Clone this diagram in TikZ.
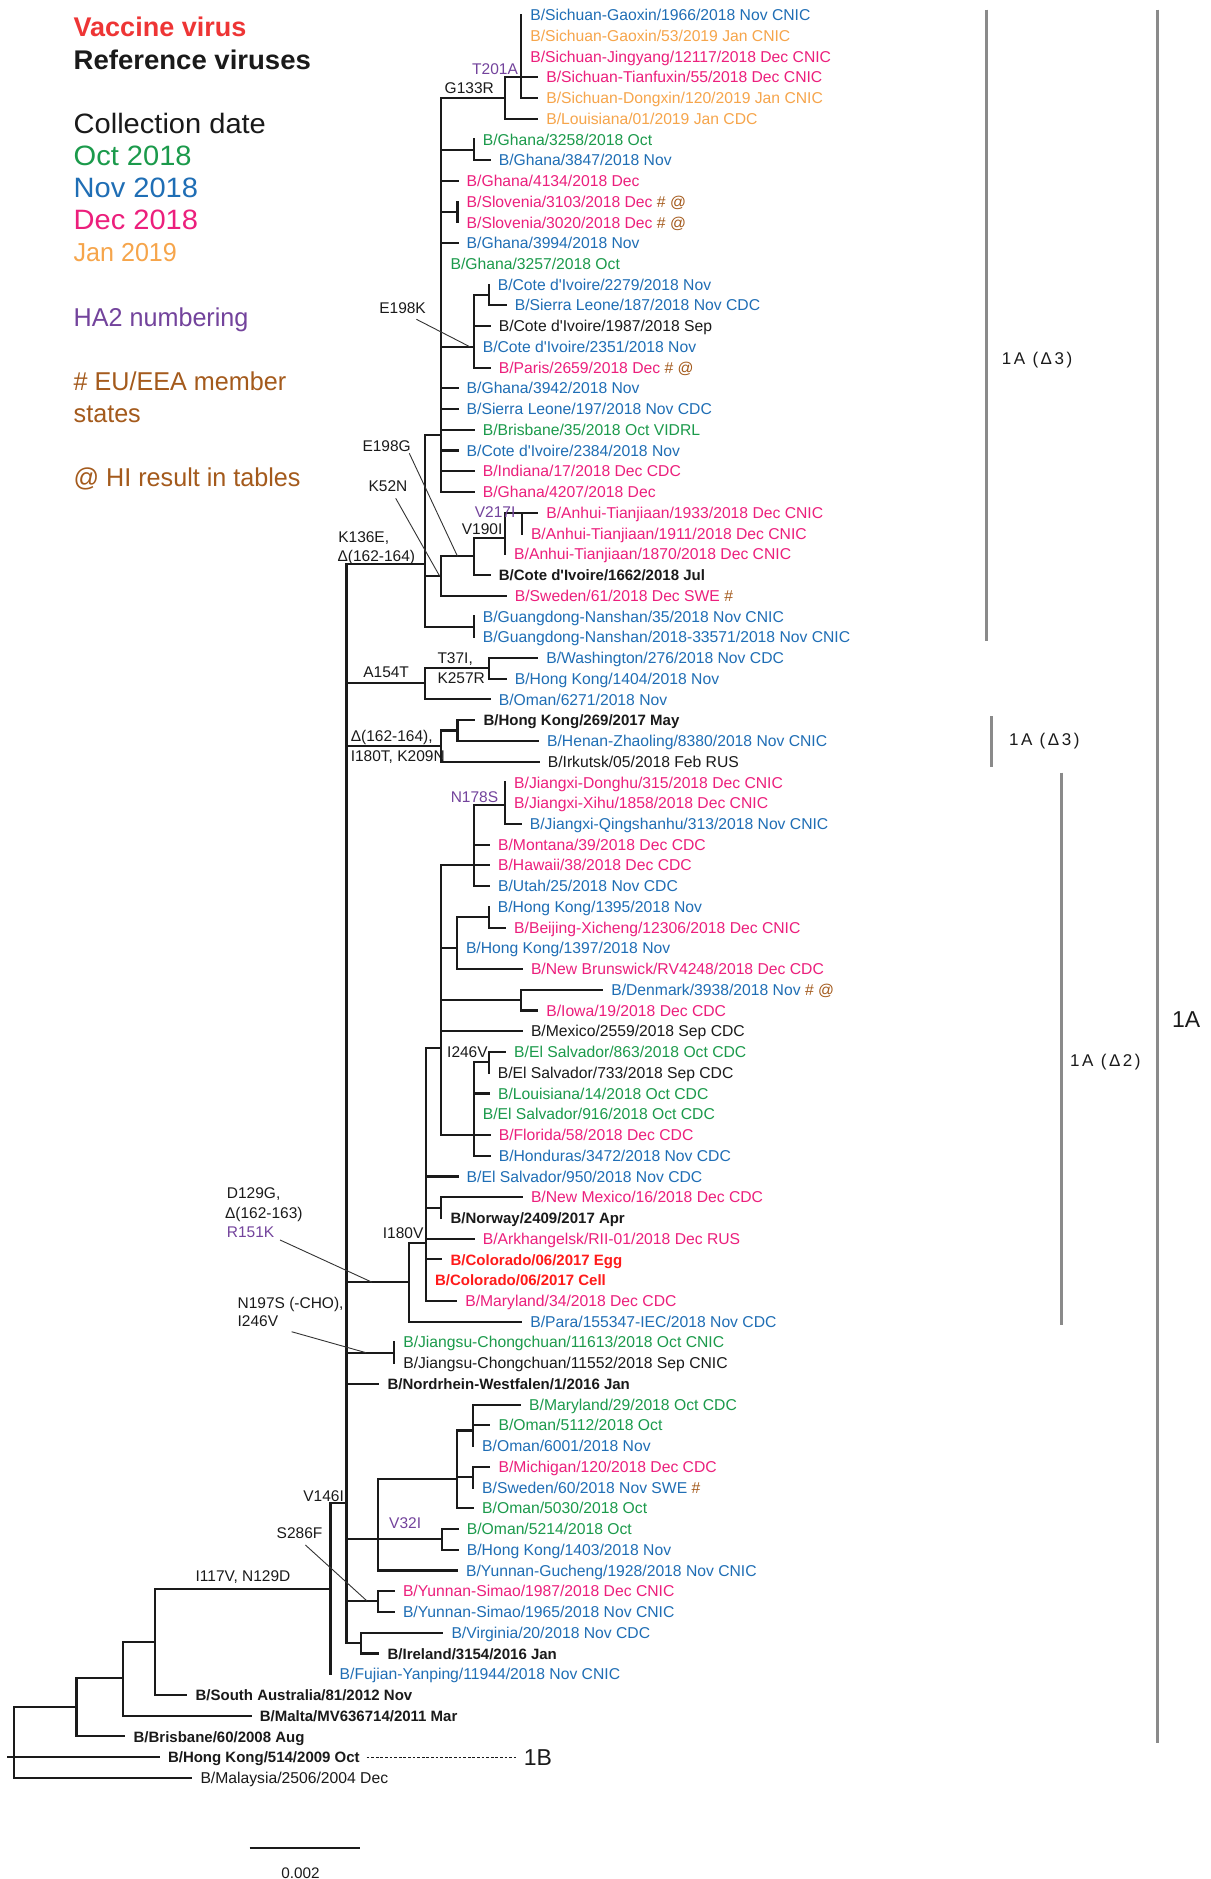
\documentclass[tikz,border=0pt]{standalone}
\usepackage{fontspec}
\setmainfont{Liberation Sans}
\newfontfamily\aposfont{Liberation Sans}
\newcommand\ap{{\aposfont '}}
\definecolor{cblue}{HTML}{1F6EB5}
\definecolor{corange}{HTML}{F6A54B}
\definecolor{cpink}{HTML}{EC1F7C}
\definecolor{cgreen}{HTML}{1B9A4B}
\definecolor{cpurple}{HTML}{73439C}
\definecolor{cbrown}{HTML}{A45A1C}
\definecolor{cred}{HTML}{FF1A1A}
\definecolor{clegred}{HTML}{EE3535}
\definecolor{cblack}{HTML}{1A1A1A}
\definecolor{cbrk}{HTML}{8A8A8A}
\newcommand\brn[1]{\textcolor{cbrown}{#1}}
% leaf with a branch: row, parent x, tip x, style, text
\newcommand\leaf[5]{%
  \coordinate (t#1) at (#3,#1);
  \node[lab,#4] (n#1) at ([xshift=4.4pt]t#1) {#5};
  \draw[br] (#2,#1) -- (t#1);
}
% leaf of zero length: row, x, style, text
\newcommand\leafz[4]{%
  \coordinate (t#1) at (#2,#1);
  \node[lab,#3] (n#1) at ([xshift=4.4pt]t#1) {#4};
}
% internal node: name, x, top row, bottom row, parent x, stem row
\newcommand\inode[6]{%
  \coordinate (#1) at (#2,#6);
  \draw[br] (#2,#3) -- (#2,#4);
  \draw[br] (#5,#6) -- (#1);
}
\begin{document}
\begin{tikzpicture}[x=0.5pt,y=-0.5pt,
  br/.style={line width=1.05pt, line cap=rect, draw=cblack},
  ld/.style={line width=0.45pt, draw=black!80},
  brk/.style={line width=1.3pt, draw=cbrk},
  lab/.style={anchor=west, inner sep=0pt, font=\fontsize{7.85pt}{9.4pt}\selectfont, text height=5.62pt, text depth=0pt},
  bl/.style={text=cblue}, og/.style={text=corange}, pk/.style={text=cpink},
  gr/.style={text=cgreen}, bk/.style={text=cblack},
  bb/.style={text=cblack, font=\fontsize{7.5pt}{9pt}\selectfont\bfseries},
  vr/.style={text=cred, font=\fontsize{7.5pt}{9pt}\selectfont\bfseries},
  mut/.style={anchor=west, inner sep=0pt, text=cblack, font=\fontsize{7.75pt}{9.3pt}\selectfont, text height=5.55pt, text depth=0pt},
  pur/.style={text=cpurple},
  leg/.style={anchor=west, inner sep=0pt, font=\fontsize{13.5pt}{16pt}\selectfont, text height=9.67pt, text depth=0pt},
  legb/.style={leg, font=\fontsize{13.5pt}{16pt}\selectfont\bfseries},
  legu/.style={leg, font=\fontsize{14pt}{16pt}\selectfont\addfontfeatures{FakeStretch=1.038}, text height=10pt},
  legj/.style={leg, font=\fontsize{13pt}{16pt}\selectfont\addfontfeatures{FakeStretch=0.965}, text height=9.3pt},
  legl/.style={leg, font=\fontsize{12.9pt}{15pt}\selectfont\addfontfeatures{FakeStretch=0.975}, text height=9.24pt},
  clab/.style={anchor=west, inner sep=0pt, text=cblack, font=\fontsize{8.5pt}{10pt}\selectfont\addfontfeatures{LetterSpace=15}, text height=6.1pt, text depth=0pt},
  big/.style={anchor=west, inner sep=0pt, text=cblack, font=\fontsize{11.5pt}{13pt}\selectfont, text height=8.2pt, text depth=0pt},
  dsh/.style={line width=0.45pt, draw=cblack, dash pattern=on 1.4pt off 0.9pt}
]
\path[fill=white, use as bounding box] (0,0) rectangle (1210,1879);

% ---------------- legend ----------------
\node[legb, text=clegred] (lg1) at (73.3,26.7) {Vaccine virus};
\node[legb, text=cblack, font=\fontsize{13.5pt}{16pt}\selectfont\bfseries\addfontfeatures{FakeStretch=1.02}] (lg2) at (73.3,59.5) {Reference viruses};
\node[legu, text=cblack] (lg3) at (73.3,123.7) {Collection date};
\node[legu, text=cgreen] (lg4) at (73.3,155) {Oct 2018};
\node[legu, text=cblue] (lg5) at (73.3,187.2) {Nov 2018};
\node[legu, text=cpink] (lg6) at (73.3,219.5) {Dec 2018};
\node[legj, text=corange] (lg7) at (73.3,252) {Jan 2019};
\node[legl, text=cpurple] (lg8) at (73.3,316.8) {HA2 numbering};
\node[legl, text=cbrown] (lg9) at (73.3,381.4) {\# EU/EEA member};
\node[legl, text=cbrown] (lg10) at (73.3,413.2) {states};
\node[legl, text=cbrown] (lg11) at (73.3,477.2) {@ HI result in tables};

% ---------------- tree (y in rows) ----------------
\begin{scope}[shift={(0,-5.74)},y=-10.37pt]
% top clade
\inode{T201}{521.1}{1}{5}{505}{4}
\inode{G133}{505}{4}{6}{441.4}{5}
\leafz{1}{521.1}{bl}{B/Sichuan-Gaoxin/1966/2018 Nov CNIC}
\leafz{2}{521.1}{og}{B/Sichuan-Gaoxin/53/2019 Jan CNIC}
\leafz{3}{521.1}{pk}{B/Sichuan-Jingyang/12117/2018 Dec CNIC}
\leaf{4}{521.1}{537.1}{pk}{B/Sichuan-Tianfuxin/55/2018 Dec CNIC}
\leaf{5}{521.1}{537.1}{og}{B/Sichuan-Dongxin/120/2019 Jan CNIC}
\leaf{6}{505}{537.1}{og}{B/Louisiana/01/2019 Jan CDC}
\inode{V1}{441.4}{5}{24}{425.4}{21.25}
\inode{GhP}{473.6}{7}{8}{441.4}{7.5}
\leafz{7}{473.6}{gr}{B/Ghana/3258/2018 Oct}
\leaf{8}{473.6}{489.6}{bl}{B/Ghana/3847/2018 Nov}
\leaf{9}{441.4}{457.5}{pk}{B/Ghana/4134/2018 Dec}
\inode{Slo}{457.5}{10}{11}{441.4}{10.5}
\leafz{10}{457.5}{pk}{B/Slovenia/3103/2018 Dec \brn{\# @}}
\leafz{11}{457.5}{pk}{B/Slovenia/3020/2018 Dec \brn{\# @}}
\leaf{12}{441.4}{457.5}{bl}{B/Ghana/3994/2018 Nov}
\leafz{13}{441.4}{gr}{B/Ghana/3257/2018 Oct}
\inode{E198K}{473.6}{14.5}{18}{441.4}{17}
\inode{CdP}{488.6}{14}{15}{473.6}{14.5}
\leafz{14}{488.6}{bl}{B/Cote d\ap Ivoire/2279/2018 Nov}
\leaf{15}{488.6}{505.7}{bl}{B/Sierra Leone/187/2018 Nov CDC}
\leaf{16}{473.6}{489.6}{bk}{B/Cote d\ap Ivoire/1987/2018 Sep}
\leafz{17}{473.6}{bl}{B/Cote d\ap Ivoire/2351/2018 Nov}
\leaf{18}{473.6}{489.6}{pk}{B/Paris/2659/2018 Dec \brn{\# @}}
\leaf{19}{441.4}{457.5}{bl}{B/Ghana/3942/2018 Nov}
\leaf{20}{441.4}{457.5}{bl}{B/Sierra Leone/197/2018 Nov CDC}
\leaf{21}{441.4}{473.6}{gr}{B/Brisbane/35/2018 Oct VIDRL}
\leaf{22}{441.4}{457.5}{bl}{B/Cote d\ap Ivoire/2384/2018 Nov}
\leaf{23}{441.4}{473.6}{pk}{B/Indiana/17/2018 Dec CDC}
\leaf{24}{441.4}{473.6}{pk}{B/Ghana/4207/2018 Dec}
% K136E node
\inode{K}{425.4}{21.25}{30.5}{346.5}{27.45}
\inode{K52N}{441.4}{27.1}{29}{425.4}{28.05}
\inode{E198G}{473.6}{26.2}{28}{441.4}{27.1}
\inode{V190I}{505}{25}{27}{473.6}{26.2}
\inode{V217I}{521.8}{25}{26}{505}{25}
\leaf{25}{521.8}{537.1}{pk}{B/Anhui-Tianjiaan/1933/2018 Dec CNIC}
\leafz{26}{521.8}{pk}{B/Anhui-Tianjiaan/1911/2018 Dec CNIC}
\leafz{27}{505}{pk}{B/Anhui-Tianjiaan/1870/2018 Dec CNIC}
\leaf{28}{473.6}{489.6}{bb}{B/Cote d\ap Ivoire/1662/2018 Jul}
\leaf{29}{441.4}{505.7}{pk}{B/Sweden/61/2018 Dec SWE \brn{\#}}
\inode{GN}{473.6}{30}{31}{425.4}{30.5}
\leafz{30}{473.6}{bl}{B/Guangdong-Nanshan/35/2018 Nov CNIC}
\leafz{31}{473.6}{bl}{B/Guangdong-Nanshan/2018-33571/2018 Nov CNIC}
% A154T
\inode{A154T}{425.4}{32.5}{34}{346.5}{33.2}
\inode{T37I}{488.9}{32}{33}{425.4}{32.5}
\leaf{32}{488.9}{537.1}{bl}{B/Washington/276/2018 Nov CDC}
\leaf{33}{488.9}{505.7}{bl}{B/Hong Kong/1404/2018 Nov}
\leaf{34}{425.4}{489.6}{bl}{B/Oman/6271/2018 Nov}
% del(162-164)
\inode{D3}{441.4}{35.5}{37}{346.5}{36.25}
\inode{HKH}{457.5}{35}{36}{441.4}{35.5}
\leaf{35}{457.5}{474.3}{bb}{B/Hong Kong/269/2017 May}
\leaf{36}{457.5}{537.9}{bl}{B/Henan-Zhaoling/8380/2018 Nov CNIC}
\leaf{37}{441.4}{538.6}{bk}{B/Irkutsk/05/2018 Feb RUS}
% D129G
\inode{D129G}{409.4}{60.22}{64}{346.5}{62.1}
\inode{I180V}{425.8}{50.82}{63}{409.4}{60.22}
\inode{N2}{441.4}{42}{55}{425.8}{50.82}
\inode{N3}{473.6}{39.1}{43}{441.4}{42}
\inode{N178S}{505}{38}{40}{473.6}{39.1}
\leafz{38}{505}{pk}{B/Jiangxi-Donghu/315/2018 Dec CNIC}
\leafz{39}{505}{pk}{B/Jiangxi-Xihu/1858/2018 Dec CNIC}
\leaf{40}{505}{520.7}{bl}{B/Jiangxi-Qingshanhu/313/2018 Nov CNIC}
\leaf{41}{473.6}{488.9}{pk}{B/Montana/39/2018 Dec CDC}
\leaf{42}{473.6}{488.9}{pk}{B/Hawaii/38/2018 Dec CDC}
\leaf{43}{473.6}{488.9}{bl}{B/Utah/25/2018 Nov CDC}
\inode{N4}{456.8}{44.5}{47}{441.4}{46}
\inode{HKB}{488.6}{44}{45}{456.8}{44.5}
\leafz{44}{488.6}{bl}{B/Hong Kong/1395/2018 Nov}
\leaf{45}{488.6}{505}{pk}{B/Beijing-Xicheng/12306/2018 Dec CNIC}
\leafz{46}{456.8}{bl}{B/Hong Kong/1397/2018 Nov}
\leaf{47}{456.8}{521.8}{pk}{B/New Brunswick/RV4248/2018 Dec CDC}
\inode{DK}{520.7}{48}{49}{441.4}{48.5}
\leaf{48}{520.7}{602.1}{bl}{B/Denmark/3938/2018 Nov \brn{\# @}}
\leaf{49}{520.7}{537.1}{pk}{B/Iowa/19/2018 Dec CDC}
\leaf{50}{441.4}{521.8}{bk}{B/Mexico/2559/2018 Sep CDC}
\inode{N5}{473.6}{51.5}{56}{441.4}{55}
\inode{I246V}{488.6}{51}{52}{473.6}{51.5}
\leaf{51}{488.6}{505}{gr}{B/El Salvador/863/2018 Oct CDC}
\leafz{52}{488.6}{bk}{B/El Salvador/733/2018 Sep CDC}
\leaf{53}{473.6}{488.9}{gr}{B/Louisiana/14/2018 Oct CDC}
\leafz{54}{473.6}{gr}{B/El Salvador/916/2018 Oct CDC}
\leaf{55}{473.6}{489.6}{pk}{B/Florida/58/2018 Dec CDC}
\leaf{56}{473.6}{489.6}{bl}{B/Honduras/3472/2018 Nov CDC}
\leaf{57}{425.8}{457.5}{bl}{B/El Salvador/950/2018 Nov CDC}
\inode{NMN}{441.4}{58}{59}{425.8}{58.5}
\leaf{58}{441.4}{521.8}{pk}{B/New Mexico/16/2018 Dec CDC}
\leafz{59}{441.4}{bb}{B/Norway/2409/2017 Apr}
\leaf{60}{425.8}{473.6}{pk}{B/Arkhangelsk/RII-01/2018 Dec RUS}
\leaf{61}{425.8}{441.4}{vr}{B/Colorado/06/2017 Egg}
\leafz{62}{425.8}{vr}{B/Colorado/06/2017 Cell}
\leaf{63}{425.8}{456.1}{pk}{B/Maryland/34/2018 Dec CDC}
\leaf{64}{409.4}{521.2}{bl}{B/Para/155347-IEC/2018 Nov CDC}
% N197S
\inode{N197S}{394.1}{65}{66}{346.5}{65.5}
\leafz{65}{394.1}{gr}{B/Jiangsu-Chongchuan/11613/2018 Oct CNIC}
\leafz{66}{394.1}{bk}{B/Jiangsu-Chongchuan/11552/2018 Sep CNIC}
\leaf{67}{346.5}{378.4}{bb}{B/Nordrhein-Westfalen/1/2016 Jan}
% Oman clade
\inode{O1}{378.4}{71.6}{76}{346.5}{74.5}
\inode{O2}{456.9}{69.25}{73}{378.4}{71.6}
\inode{O3}{473}{68}{70}{456.9}{69.25}
\leaf{68}{473}{520}{gr}{B/Maryland/29/2018 Oct CDC}
\leaf{69}{473}{489.4}{gr}{B/Oman/5112/2018 Oct}
\leafz{70}{473}{bl}{B/Oman/6001/2018 Nov}
\inode{O4}{473}{71}{72}{456.9}{71.5}
\leaf{71}{473}{489.4}{pk}{B/Michigan/120/2018 Dec CDC}
\leafz{72}{473}{bl}{B/Sweden/60/2018 Nov SWE \brn{\#}}
\leaf{73}{456.9}{473}{gr}{B/Oman/5030/2018 Oct}
\inode{V32I}{441.6}{74}{75}{378.4}{74.5}
\leaf{74}{441.6}{457.7}{gr}{B/Oman/5214/2018 Oct}
\leaf{75}{441.6}{457.7}{bl}{B/Hong Kong/1403/2018 Nov}
\leaf{76}{378.4}{456.9}{bl}{B/Yunnan-Gucheng/1928/2018 Nov CNIC}
\inode{S286F}{378.4}{77}{78}{346.5}{77.45}
\leaf{77}{378.4}{393.8}{pk}{B/Yunnan-Simao/1987/2018 Dec CNIC}
\leaf{78}{378.4}{393.8}{bl}{B/Yunnan-Simao/1965/2018 Nov CNIC}
\inode{VI}{361.2}{79}{80}{346.5}{79.5}
\leaf{79}{361.2}{442.3}{bl}{B/Virginia/20/2018 Nov CDC}
\leaf{80}{361.2}{378.4}{bb}{B/Ireland/3154/2016 Jan}
% backbone and root
\inode{B0}{346.5}{27.45}{79.5}{330.5}{72.76}
\inode{V146I}{330.5}{72.76}{81}{155}{76.9}
\leafz{81}{330.5}{bl}{B/Fujian-Yanping/11944/2018 Nov CNIC}
\inode{R1}{155}{76.9}{82}{123.2}{79.45}
\leaf{82}{155}{186.4}{bb}{B/South Australia/81/2012 Nov}
\inode{R2}{123.2}{79.45}{83}{76.5}{81.2}
\leaf{83}{123.2}{250.6}{bb}{B/Malta/MV636714/2011 Mar}
\inode{R3}{76.5}{81.2}{84}{14.2}{82.6}
\leaf{84}{76.5}{124.4}{bb}{B/Brisbane/60/2008 Aug}
\coordinate (R0b) at (14.2,86);
\draw[br] (R3 -| R0b) -- (R0b);
\leaf{85}{7.7}{158.8}{bb}{B/Hong Kong/514/2009 Oct}
\leaf{86}{14.2}{191.3}{bk}{B/Malaysia/2506/2004 Dec}
% 1B
\coordinate (d1) at (366.6,85);
\coordinate (d2) at (515.8,85);
\draw[dsh] (d1) -- (d2);
\node[big] (c1B) at (523.5,85) {1B};
% leader end points
\coordinate (kE198K) at (470,17);
\coordinate (kE198G) at (457.5,27.1);
\coordinate (kK52N) at (439.6,28.05);
\coordinate (kD129G) at (372,62.1);
\coordinate (kN197S) at (366.2,65.5);
\coordinate (kS286F) at (366.6,77.45);
\end{scope}

% ---------------- mutation labels ----------------
\node[mut,pur] (mT201A) at (471.8,69) {T201A};
\node[mut] (mG133R) at (444.3,88.3) {G133R};
\node[mut] (mE198K) at (378.9,308.3) {E198K};
\node[mut] (mE198G) at (362.1,446) {E198G};
\node[mut] (mK52N) at (368.2,486) {K52N};
\node[mut,pur] (mV217I) at (474.5,512.2) {V217I};
\node[mut] (mV190I) at (461.5,529.3) {V190I};
\node[mut] (mK136E) at (337.9,536.7) {K136E,};
\node[mut] (mD3a) at (337.1,556) {Δ(162-164)};
\node[mut] (mA154T) at (362.9,672.3) {A154T};
\node[mut] (mT37I) at (437.1,658.3) {T37I,};
\node[mut] (mK257R) at (437.1,677.7) {K257R};
\node[mut] (mD3b) at (350.4,735.7) {Δ(162-164),};
\node[mut] (mI180T) at (350.4,756) {I180T, K209N};
\node[mut,pur] (mN178S) at (450.4,796.7) {N178S};
\node[mut] (mI246Va) at (446.8,1051.7) {I246V};
\node[mut] (mI180V) at (382.5,1232.7) {I180V};
\node[mut] (mD129G) at (226.5,1193.3) {D129G,};
\node[mut] (mD2) at (224.6,1213) {Δ(162-163)};
\node[mut,pur] (mR151K) at (226.5,1231.5) {R151K};
\node[mut] (mN197S) at (237.2,1302.5) {N197S (-CHO),};
\node[mut] (mI246Vb) at (237.2,1320.5) {I246V};
\node[mut] (mV146I) at (303,1496) {V146I};
\node[mut,pur] (mV32I) at (388.8,1522.7) {V32I};
\node[mut] (mS286F) at (276.3,1533.3) {S286F};
\node[mut] (mI117V) at (195.2,1576) {I117V, N129D};

% leader lines
\coordinate (aE198K) at (416.4,319.3);
\coordinate (aE198G) at (409.3,453.3);
\coordinate (aK52N) at (395.7,498.3);
\coordinate (aD129G) at (280.1,1240);
\coordinate (aN197S) at (291.6,1331.7);
\coordinate (aS286F) at (305.4,1545);
\draw[ld] (aE198K) -- (kE198K);
\draw[ld] (aE198G) -- (kE198G);
\draw[ld] (aK52N) -- (kK52N);
\draw[ld] (aD129G) -- (kD129G);
\draw[ld] (aN197S) -- (kN197S);
\draw[ld] (aS286F) -- (kS286F);

% ---------------- clade brackets ----------------
\coordinate (b1t) at (986.7,9.6);  \coordinate (b1b) at (986.7,641);
\coordinate (b2t) at (991.7,716.4); \coordinate (b2b) at (991.7,766.7);
\coordinate (b3t) at (1061.7,772.7); \coordinate (b3b) at (1061.7,1325);
\coordinate (b4t) at (1157.3,9.6); \coordinate (b4b) at (1157.3,1743);
\draw[brk] (b1t) -- (b1b);
\draw[brk] (b2t) -- (b2b);
\draw[brk] (b3t) -- (b3b);
\draw[brk] (b4t) -- (b4b);
\node[clab] (cl1) at (1001.5,358.2) {1A (Δ3)};
\node[clab] (cl2) at (1008.7,739) {1A (Δ3)};
\node[clab] (cl3) at (1069.8,1060) {1A (Δ2)};
\node[big] (cl4) at (1171.6,1019.5) {1A};

% ---------------- scale bar ----------------
\coordinate (s1) at (249.5,1847.7);
\coordinate (s2) at (359.7,1847.7);
\draw[line width=0.85pt, draw=cblack] (s1) -- (s2);
\node[anchor=center, inner sep=0pt, text=cblack, font=\fontsize{7.65pt}{9pt}\selectfont, text height=5.5pt, text depth=0pt] (sbl) at (300.4,1872.5) {0.002};
\end{tikzpicture}
\end{document}
